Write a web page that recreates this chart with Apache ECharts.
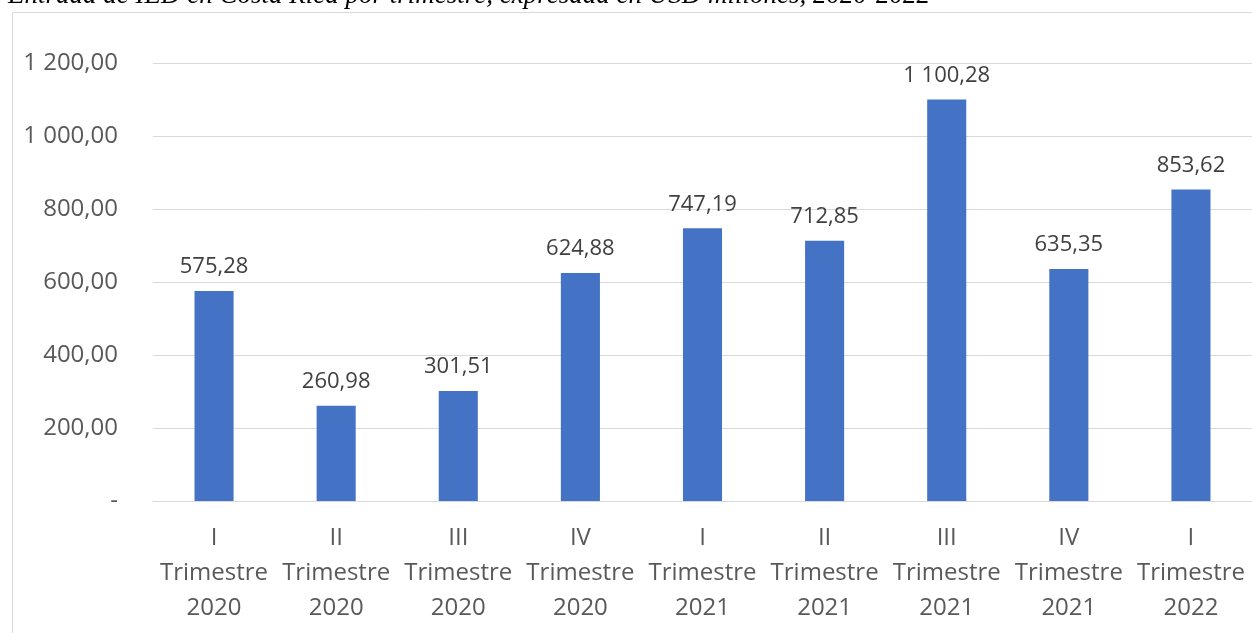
<!DOCTYPE html>
<html><head><meta charset="utf-8">
<script src="https://cdn.jsdelivr.net/npm/echarts@6/dist/echarts.min.js"></script>
<style>html,body{margin:0;padding:0;background:#fff}#c{width:1252px;height:633px}</style>
</head><body><div id="c"></div>
<script>
const titleText = 'Entrada de IED en Costa Rica por trimestre, expresada en USD millones, 2020-2022';
const quarters = ['I', 'II', 'III', 'IV', 'I', 'II', 'III', 'IV', 'I'];
const years = ['2020', '2020', '2020', '2020', '2021', '2021', '2021', '2021', '2022'];
const categories = quarters.map((q, i) => q + '\nTrimestre\n' + years[i]);
const values = [575.28, 260.98, 301.51, 624.88, 747.19, 712.85, 1100.28, 635.35, 853.62];
const yTicks = { min: 0, max: 1200, interval: 200 };

function fmt(v) {
  const s = v.toFixed(2).split('.');
  const int = s[0].replace(/\B(?=(\d{3})+(?!\d))/g, ' ');
  return int + ',' + s[1];
}
const chart = echarts.init(document.getElementById('c'), null, { renderer: 'canvas' });
const font = '"Open Sans", "Noto Sans", sans-serif';
chart.setOption({
  animation: false,
  textStyle: { fontFamily: font },
  graphic: [
    { type: 'rect', shape: { x: 12.5, y: 12.5, width: 1300, height: 700 }, style: { fill: 'none', stroke: '#d9d9d9', lineWidth: 1 }, z: -1 },
    { type: 'text', x: 8, y: 9, style: { text: titleText, font: 'italic 27px "Liberation Serif", "Times New Roman", serif', fill: '#000', textVerticalAlign: 'bottom' } }
  ],
  grid: { left: 153, top: 63, width: 1107, height: 438 },
  xAxis: {
    type: 'category', data: categories,
    axisLine: { lineStyle: { color: '#d9d9d9', width: 1 } },
    axisTick: { show: false },
    axisLabel: { color: '#595959', fontSize: 24, lineHeight: 35, margin: 20, interval: 0, fontFamily: font }
  },
  yAxis: {
    type: 'value', min: yTicks.min, max: yTicks.max, interval: yTicks.interval,
    axisLine: { show: false }, axisTick: { show: false },
    splitLine: { lineStyle: { color: '#d9d9d9', width: 1 } },
    axisLabel: { color: '#595959', fontSize: 24, margin: 35, fontFamily: font, formatter: v => v === 0 ? '-' : fmt(v) }
  },
  series: [{
    type: 'bar', data: values, barWidth: '32%',
    itemStyle: { color: '#4472C4' },
    label: { show: true, position: 'top', distance: 13, color: '#404040', fontSize: 22, fontFamily: font, formatter: p => fmt(p.value) }
  }]
});
</script></body></html>
